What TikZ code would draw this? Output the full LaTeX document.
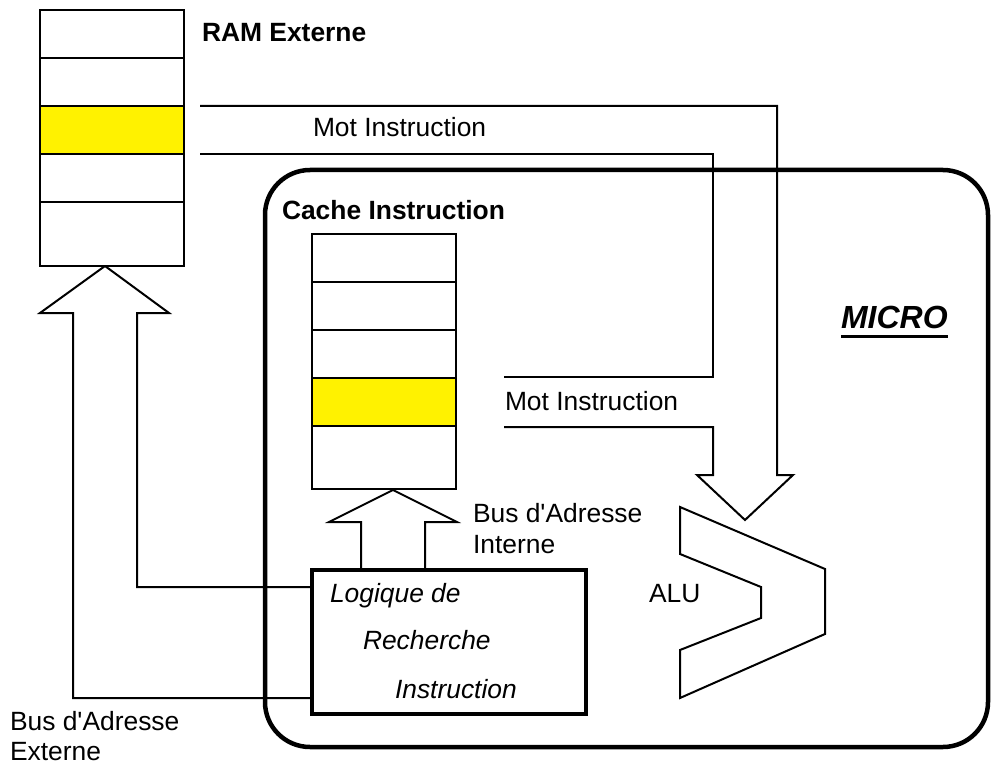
\documentclass[tikz,border=0pt]{standalone}
\usepackage{fontspec}
\setmainfont{Liberation Sans}
\begin{document}
\begin{tikzpicture}[x=1pt,y=-1pt,
  fine/.style={line width=2pt, line join=miter},
  heavy/.style={line width=4.5pt},
  cell/.style={draw, line width=2pt, minimum width=144pt, minimum height=48pt,
               inner sep=0pt, outer sep=0pt, anchor=north west},
  hot/.style={fill=yellow},
  lbl/.style={inner sep=0pt, outer sep=0pt, anchor=base west,
              font=\fontsize{26.4}{31}\selectfont},
]
\useasboundingbox (0,0) rectangle (991,765);

% processor outline
\node[draw, heavy, rounded corners=45pt, inner sep=0pt, outer sep=0pt,
      minimum width=723pt, minimum height=577pt, anchor=north west]
      (micro) at (265,170) {};

% external RAM column
\node[cell] (r1) at (40,10) {};
\node[cell] (r2) at (40,58) {};
\node[cell, hot] (r3) at (40,106) {};
\node[cell] (r4) at (40,154) {};
\node[cell, minimum height=64pt] (r5) at (40,202) {};

% instruction cache column
\node[cell] (c1) at (312,234) {};
\node[cell] (c2) at (312,282) {};
\node[cell] (c3) at (312,330) {};
\node[cell, hot] (c4) at (312,378) {};
\node[cell, minimum height=63pt] (c5) at (312,426) {};

% fetch logic block
\node[draw, heavy, inner sep=0pt, outer sep=0pt, minimum width=274pt,
      minimum height=144pt, anchor=north west] (logic) at (312,570) {};

% key points of the bus outlines
\coordinate (extTip) at (105,266);
\coordinate (busHi) at ([yshift=-17pt]logic.north west);
\coordinate (busLo) at ([yshift=-128pt]logic.north west);
\coordinate (intTip) at (393,490);
\coordinate (intL) at ([xshift=49pt]logic.north west);
\coordinate (intR) at ([xshift=113pt]logic.north west);

% external address bus (hollow arrow up into the RAM)
\draw[fine] (extTip) -- (169,313) -- (137,313) -- (137,587) -- (busHi);
\draw[fine] (extTip) -- (40,313) -- (73,313) -- (73,698) -- (busLo);

% internal address bus (hollow arrow up into the cache)
\draw[fine] (intTip) -- (457,522) -- (425,522) -- (intR);
\draw[fine] (intTip) -- (329,522) -- (361,522) -- (intL);

% instruction word paths merging into the ALU
\draw[fine] (200,106) -- (777,106) -- (777,475) -- (793,475) -- (745,520)
            -- (697,475) -- (713,475) -- (713,427) -- (504,427);
\draw[fine] (200,154) -- (713,154) -- (713,377) -- (504,377);

% ALU
\draw[fine] (680,507) -- (825,569) -- (825,634) -- (680,698) -- (680,650)
            -- (761,618) -- (761,587) -- (680,554) -- cycle;

% labels
\node[lbl, font=\fontsize{26.4}{31}\selectfont\bfseries] (tRam) at (202,42) {RAM Externe};
\node[lbl] (tMot1) at (313,137) {Mot Instruction};
\node[lbl, font=\fontsize{26.4}{31}\selectfont\bfseries] (tCache) at (282,219) {Cache Instruction};
\node[lbl] (tMot2) at (505,410) {Mot Instruction};
\node[lbl, font=\fontsize{32}{36}\selectfont\bfseries\itshape] (tMicro) at (841,328) {MICRO};
\draw[line width=2.5pt] ([yshift=-8pt]tMicro.south west) -- ([yshift=-8pt]tMicro.south east);
\node[lbl] (tInt1) at (473,522) {Bus d\textquotesingle Adresse};
\node[lbl] (tInt2) at (473,553) {Interne};
\node[lbl] (tAlu) at (649,602) {ALU};
\node[lbl, font=\fontsize{26.4}{31}\selectfont\itshape] (tLog1) at (330,602) {Logique de};
\node[lbl, font=\fontsize{26.4}{31}\selectfont\itshape] (tLog2) at (363,649) {Recherche};
\node[lbl, font=\fontsize{26.4}{31}\selectfont\itshape] (tLog3) at (395,698) {Instruction};
\node[lbl] (tExt1) at (10,730) {Bus d\textquotesingle Adresse};
\node[lbl] (tExt2) at (10,760) {Externe};
\end{tikzpicture}
\end{document}
